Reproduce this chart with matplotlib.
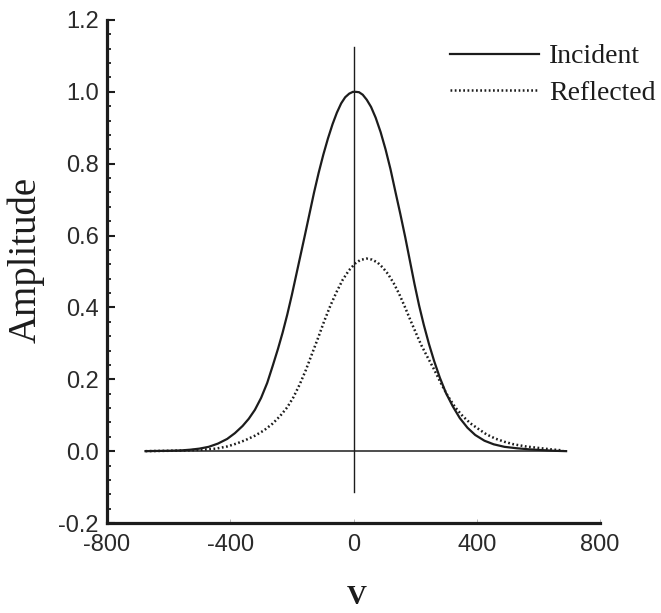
import matplotlib
matplotlib.use("Agg")
import matplotlib.pyplot as plt
from matplotlib.ticker import MultipleLocator

# Incident pulse amplitude versus V
incident_v = [-675, -640, -600, -560, -530, -500, -470, -440, -410, -385, -360,
              -340, -320, -300, -280, -262, -245, -230, -215, -200, -186, -172,
              -158, -143, -128, -113, -98, -83, -68, -54, -40, -27, -14, -2, 8,
              18, 30, 43, 57, 72, 88, 104, 120, 136, 152, 168, 183, 198, 213,
              228, 245, 262, 280, 300, 322, 345, 370, 395, 425, 455, 490, 530,
              570, 610, 650, 690]
incident_amp = [0.000, 0.0005, 0.001, 0.002, 0.004, 0.007, 0.012, 0.021, 0.034,
                0.050, 0.070, 0.090, 0.115, 0.148, 0.190, 0.238, 0.285, 0.330,
                0.380, 0.435, 0.490, 0.545, 0.600, 0.660, 0.720, 0.775, 0.825,
                0.870, 0.910, 0.942, 0.968, 0.985, 0.995, 1.000, 1.000, 0.999,
                0.992, 0.978, 0.958, 0.928, 0.888, 0.840, 0.785, 0.722, 0.660,
                0.595, 0.530, 0.465, 0.405, 0.352, 0.298, 0.250, 0.205, 0.162,
                0.125, 0.092, 0.065, 0.045, 0.029, 0.019, 0.012, 0.008, 0.005,
                0.003, 0.001, 0.000]

# Reflected pulse amplitude versus V
reflected_v = [-675, -600, -540, -490, -446, -410, -380, -350, -320, -290, -262,
               -238, -215, -195, -175, -155, -135, -115, -95, -75, -55, -35,
               -15, 5, 22, 42, 60, 78, 95, 112, 130, 148, 166, 184, 202, 220,
               240, 260, 282, 305, 330, 355, 380, 405, 431, 460, 490, 520, 560,
               600, 640, 680]
reflected_amp = [0.000, 0.001, 0.002, 0.004, 0.007, 0.013, 0.021, 0.031, 0.043,
                 0.058, 0.077, 0.098, 0.122, 0.150, 0.185, 0.225, 0.270, 0.315,
                 0.362, 0.405, 0.443, 0.477, 0.503, 0.522, 0.532, 0.536, 0.533,
                 0.525, 0.511, 0.493, 0.468, 0.438, 0.403, 0.366, 0.330, 0.295,
                 0.262, 0.230, 0.192, 0.155, 0.122, 0.097, 0.077, 0.062, 0.047,
                 0.035, 0.026, 0.019, 0.013, 0.009, 0.005, 0.002]

x_ticks = [-800, -400, 0, 400, 800]
y_ticks = [-0.2, 0.0, 0.2, 0.4, 0.6, 0.8, 1.0, 1.2]
series_labels = ["Incident", "Reflected"]

ink = "#1c1c1c"
fig = plt.figure(figsize=(6.61, 6.13), dpi=100)
ax = fig.add_axes([107 / 661, 90 / 613, 493 / 661, 503 / 613])

# reference axes through the origin
ax.plot([incident_v[0], incident_v[-1]], [0, 0], color=ink, lw=1.1, zorder=2)
ax.plot([0, 0], [-0.115, 1.125], color=ink, lw=1.0, zorder=2)

ax.plot(incident_v, incident_amp, color=ink, lw=1.6, solid_joinstyle="round",
        label=series_labels[0], zorder=3)
ax.plot(reflected_v, reflected_amp, color=ink, lw=1.8,
        linestyle=(0, (0.7, 1.0)), label=series_labels[1], zorder=3)

ax.set_xlim(-800, 800)
ax.set_ylim(-0.2, 1.2)
ax.set_xticks(x_ticks)
ax.set_yticks(y_ticks)
ax.set_xticklabels([f"{t:d}" for t in x_ticks])
ax.set_yticklabels([f"{t:.1f}" for t in y_ticks])
ax.yaxis.set_minor_locator(MultipleLocator(0.04))

for side in ("top", "right"):
    ax.spines[side].set_visible(False)
for side in ("left", "bottom"):
    ax.spines[side].set_linewidth(2.3)
    ax.spines[side].set_color(ink)

ax.tick_params(axis="y", which="major", direction="in", length=6, width=1.5,
               color=ink, pad=6, labelsize=17, labelcolor="#2a2a2a")
ax.tick_params(axis="y", which="minor", direction="in", length=3.2, width=1.3,
               color=ink)
ax.tick_params(axis="x", which="major", direction="in", length=3, width=0.6,
               color="#aaaaaa", pad=8, labelsize=17, labelcolor="#2a2a2a")
for lab in ax.get_xticklabels() + ax.get_yticklabels():
    lab.set_fontfamily("Liberation Sans")

fig.text(26 / 661, 1 - 260 / 613, "Amplitude", rotation=90, ha="center",
         va="center", fontsize=28, family="Liberation Serif", color=ink)
fig.text(357 / 661, 1 - 598 / 613, "V", ha="center", va="center", fontsize=20,
         family="Liberation Serif", fontweight="bold", color=ink)

leg = ax.legend(loc="upper left", bbox_to_anchor=(450 / 661, 1 - 44 / 613),
                bbox_transform=fig.transFigure, frameon=False, borderpad=0,
                borderaxespad=0, handlelength=3.2, handletextpad=0.38,
                labelspacing=0.4,
                prop={"family": "Liberation Serif", "size": 20})
for t in leg.get_texts():
    t.set_color(ink)

fig.savefig("out.png", dpi=100, facecolor="white")
